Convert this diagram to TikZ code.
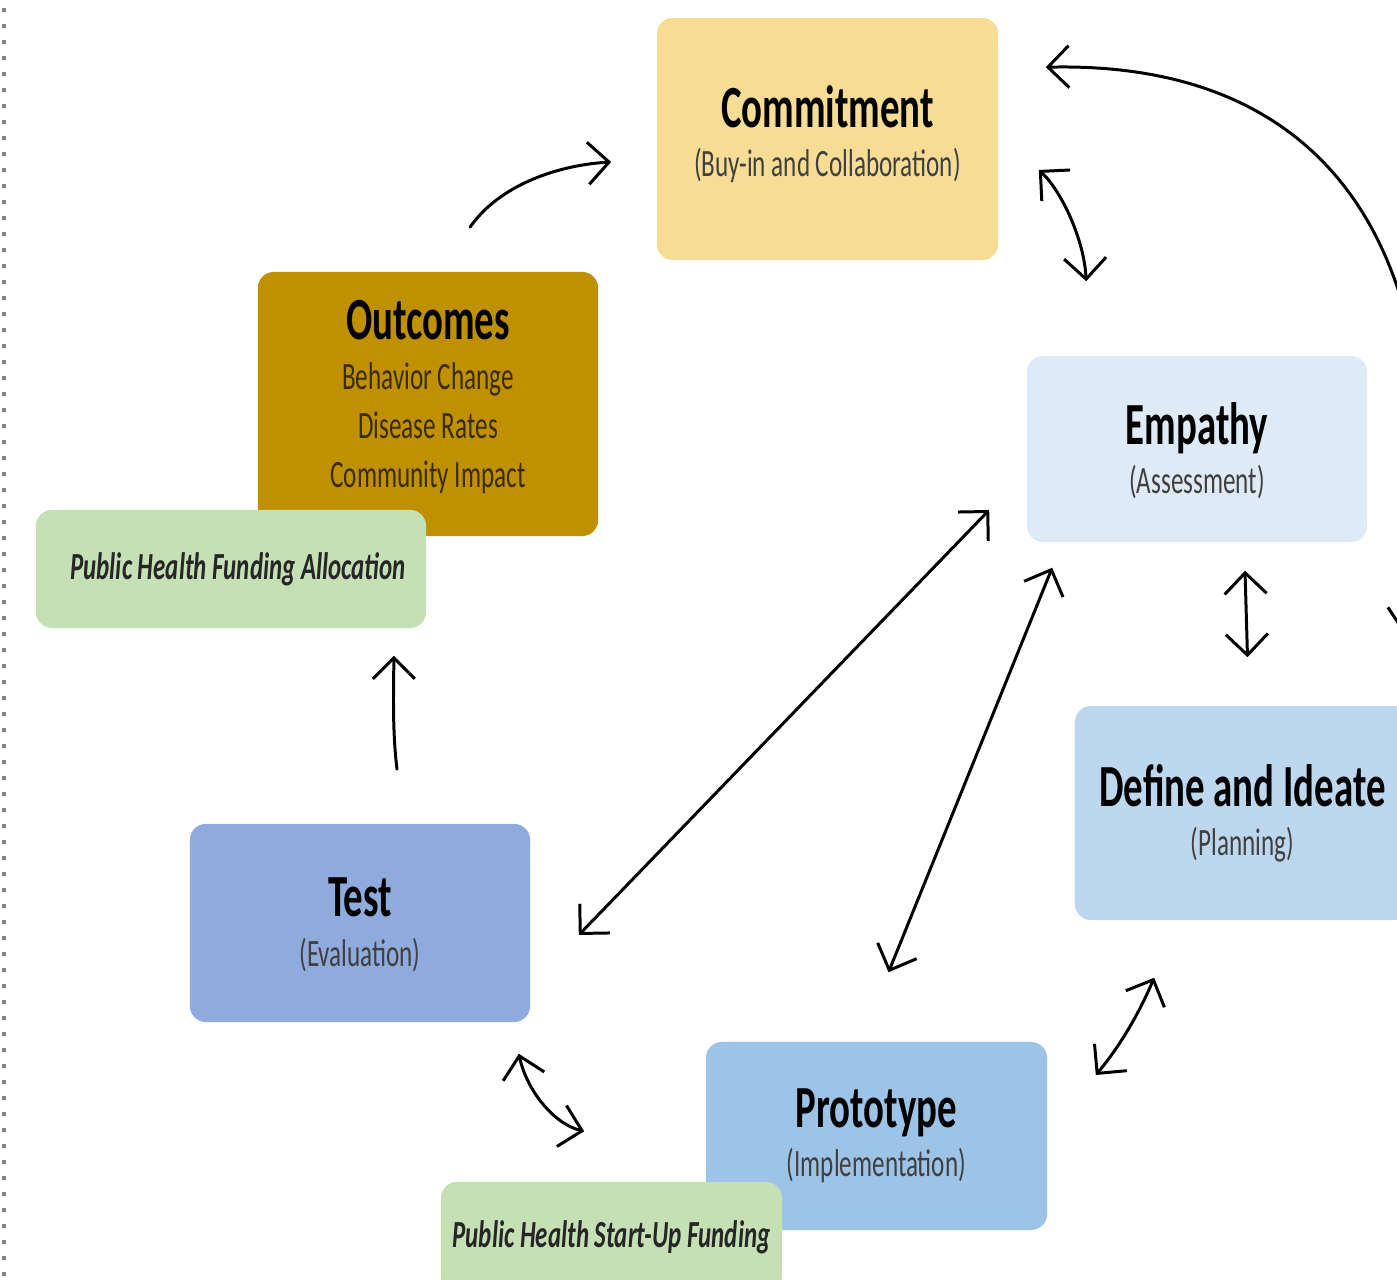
\documentclass[tikz,border=0pt]{standalone}
\usepackage{fontspec}
\setmainfont{Carlito}[FakeStretch=0.65]
\usetikzlibrary{arrows.meta}
\definecolor{commitfill}{HTML}{F6DC94}
\definecolor{outfill}{HTML}{BF9000}
\definecolor{fundfill}{HTML}{C5E0B4}
\definecolor{empfill}{HTML}{DEEBF7}
\definecolor{deffill}{HTML}{BDD7EE}
\definecolor{testfill}{HTML}{8FAADC}
\definecolor{protofill}{HTML}{9DC3E6}
\newcommand{\ttl}[1]{{\fontsize{17}{20}\selectfont\bfseries\color{black}#1}}

\begin{document}
\begin{tikzpicture}[x=0.01cm,y=-0.01cm,
  box/.style={rectangle,rounded corners=0.16cm,align=center,inner sep=0pt,
    font=\fontsize{11}{14}\selectfont,text=black!75},
  fund/.style={box,fill=fundfill,font=\fontsize{10.9}{14}\selectfont\bfseries\itshape,text=black!85},
  >={Straight Barb[length=2.1mm,width=4.2mm]},
  link/.style={line width=0.85pt,line cap=round,line join=round}]
\useasboundingbox (0,0) rectangle (1397,1280);
\clip (0,0) rectangle (1397,1280);
\draw[gray,line width=1.1pt,dash pattern=on 1.1pt off 3.45pt] (4,8)--(4,1280);

\node[box,fill=commitfill,minimum width=3.41cm,minimum height=2.42cm,text depth=4.6pt] (com) at (827.5,139)
  {\ttl{Commitment}\\(Buy-in and Collaboration)};
\node[box,fill=outfill,minimum width=3.40cm,minimum height=2.64cm,text depth=5.6pt,
  text={rgb,255:red,58;green,44;blue,0}] (out) at (428,404)
  {\ttl{Outcomes}\\Behavior Change\\Disease Rates\\Community Impact};
\node[fund,minimum width=3.90cm,minimum height=1.18cm] (alloc) at (231,569) {\hspace*{0.14cm}Public Health Funding Allocation};
\node[box,fill=empfill,minimum width=3.40cm,minimum height=1.86cm,text depth=0.5pt] (emp) at (1197,449)
  {\ttl{Empathy}\\(Assessment)};
\node[box,fill=deffill,minimum width=3.35cm,minimum height=2.14cm,text depth=1.5pt] (def) at (1242.5,813)
  {\ttl{Define and Ideate}\\(Planning)};
\node[box,fill=testfill,minimum width=3.40cm,minimum height=1.98cm,text depth=0.5pt] (test) at (360,923)
  {\ttl{Test}\\(Evaluation)};
\node[box,fill=protofill,minimum width=3.41cm,minimum height=1.88cm] (proto) at (876.5,1136)
  {\ttl{Prototype}\\(Implementation)};
\node[fund,minimum width=3.41cm,minimum height=1.10cm] (start) at (611.5,1237) {Public Health Start-Up Funding};

\draw[link,->] ([shift={(42,-44)}]out.north) .. controls +(30,-43) and +(-52,3) .. ([shift={(-45,23)}]com.west);
\draw[link,<->] ([shift={(-7,-71)}]def.north east) .. controls +(57,-275) and +(355,-8) .. ([shift={(47,50)}]com.north east);
\draw[link,<->] ([shift={(40,31)}]com.east) .. controls +(22,20) and +(-2,-42) .. ([shift={(60,-74)}]emp.north west);
\draw[link,<->] ([shift={(48,28)}]emp.south)--([shift={(5,-48)}]def.north);
\draw[link,<->] ([shift={(-37,61)}]emp.west)--([shift={(48,12)}]test.east);
\draw[link,<->] ([shift={(26,25)}]emp.south west)--([shift={(12,-69)}]proto.north);
\draw[link,<->] ([shift={(80,57)}]def.south west) .. controls +(-15,35) and +(25,-30) .. ([shift={(48,-61)}]proto.east);
\draw[link,<->] ([shift={(-12,31)}]test.south east) .. controls +(8,37) and +(-30,-7) .. ([shift={(144,-50)}]start.north west);
\draw[link,->] ([shift={(37,-54)}]test.north) .. controls +(-5,-40) and +(0,30) .. ([shift={(-33,27)}]alloc.south east);
\end{tikzpicture}
\end{document}
